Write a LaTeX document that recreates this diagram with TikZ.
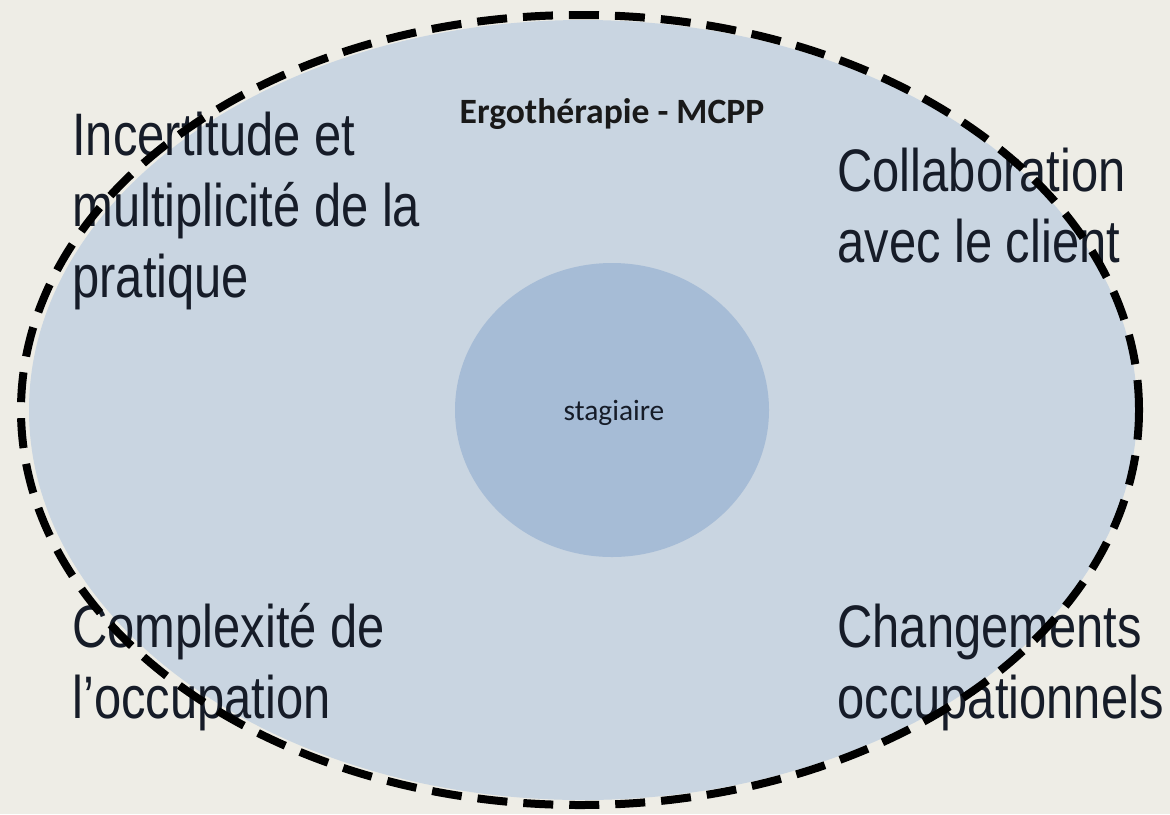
\documentclass[tikz,border=0pt]{standalone}
\usepackage{fontspec}
\usepackage{graphicx}
\setmainfont{Liberation Sans}
\newfontfamily\calib{Carlito}
\usetikzlibrary{shapes.geometric}
\definecolor{bgcol}{RGB}{238,237,230}
\definecolor{outerfill}{RGB}{201,213,225}
\definecolor{innerfill}{RGB}{166,188,214}
\definecolor{txtcol}{RGB}{22,28,40}
\newcommand{\bigtxt}[1]{\scalebox{0.815}[1]{\fontsize{30}{35.5}\selectfont\begin{tabular}[t]{@{}l@{}}#1\end{tabular}}}
\tikzset{
  corner/.style={anchor=base west, inner sep=0pt, text=txtcol},
}
\begin{document}
\begin{tikzpicture}[x=0.5pt,y=-0.5pt]
\fill[bgcol] (0,0) rectangle (1170,814);
\useasboundingbox (0,0) rectangle (1170,814);
\node (outerfill) [ellipse, fill=outerfill, inner sep=0pt, minimum width=554pt, minimum height=390pt] at (583,410) {};
\node (inner) [ellipse, fill=innerfill, inner sep=0pt, minimum width=157pt, minimum height=147pt] at (612,410) {};
\node (stag) [anchor=base, inner sep=0pt, text=txtcol, font=\calib\fontsize{14.7}{17}\selectfont] at (614,420) {stagiaire};
\node (title) [anchor=base, inner sep=0pt, text=black!90, font=\calib\bfseries\fontsize{17.8}{21}\selectfont] at (612,123) {Ergothérapie - MCPP};
\node (tl) [corner] at (72,155) {\bigtxt{Incertitude et\\multiplicité de la\\pratique}};
\node (tr) [corner] at (837,191) {\bigtxt{Collaboration\\avec le client}};
\node (bl) [corner] at (72,647) {\bigtxt{Complexité de\\l’occupation}};
\node (br) [corner] at (837,647) {\bigtxt{Changements\\occupationnels}};
\node (outer) [ellipse, draw=black, line width=4pt, dash pattern=on 15pt off 8pt, inner sep=0pt, minimum width=559pt, minimum height=395pt] at (580,410) {};
\end{tikzpicture}
\end{document}
